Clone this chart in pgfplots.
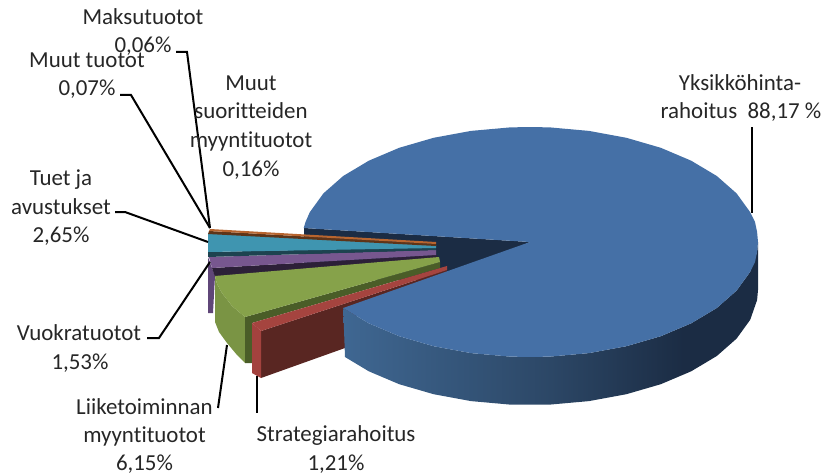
\documentclass[border=0pt]{standalone}
\usepackage{fontspec}
\setmainfont[Ligatures=NoCommon]{Carlito}
\usepackage{pgfplots}
\pgfplotsset{compat=1.18}
\definecolor{c1}{HTML}{3F6792}
\definecolor{c2}{HTML}{2C4766}
\definecolor{c3}{HTML}{1B2C44}
\pgfdeclarehorizontalshading{pieside}{100bp}{color(0bp)=(c1); color(25bp)=(c1); color(50bp)=(c2); color(66bp)=(c3); color(75bp)=(c3); color(100bp)=(c3)}
\definecolor{bluetop}{HTML}{4570A6}
\definecolor{redtop}{HTML}{A5443F}
\definecolor{redwall}{HTML}{592622}
\definecolor{redside}{HTML}{A3423E}
\definecolor{greentop}{HTML}{86A24A}
\definecolor{greenside}{HTML}{7A9444}
\definecolor{greenwall}{HTML}{4A5D28}
\definecolor{purptop}{HTML}{77578F}
\definecolor{purpwall}{HTML}{2C2038}
\definecolor{purpside}{HTML}{5F4678}
\definecolor{tealtop}{HTML}{3F95B0}
\definecolor{tealwall}{HTML}{1D4350}
\definecolor{brown}{HTML}{B8652F}
\definecolor{brownd}{HTML}{5E3418}
\definecolor{lab}{HTML}{262626}
\newcommand{\lbl}[3]{\node[font=\fontsize{23}{23}\selectfont,text=lab,inner sep=0pt,anchor=base] at (axis cs:#1,#2+7) {#3};}
\begin{document}
\begin{tikzpicture}
\path[use as bounding box] (0,0) rectangle (827bp,475bp);
\begin{axis}[
  at={(0,0)},anchor=south west,
  width=827bp,height=475bp,scale only axis,
  xmin=0,xmax=827,ymin=0,ymax=475,y dir=reverse,
  enlargelimits=false,axis lines=none,clip=false,
  every axis plot/.append style={draw=none,mark=none}]
% dark inner wedge
\addplot[fill=c3] coordinates {(304,228)(530,242)(440,280)(304,280)} --cycle;
% purple outer side
\addplot[fill=purpside] coordinates {(208,257)(208,313)(213,313)(215,276)(212,268)} --cycle;
% purple wall and top
\addplot[fill=purpwall] coordinates {(212,268)(436,255)(439,258)(215,277)} --cycle;
\addplot[fill=purptop] coordinates {(209,257)(436,250)(436,255)(212,268)} --cycle;
% teal
\addplot[fill=tealwall] coordinates {(208,252)(436,247)(436,250)(208,257)} --cycle;
\addplot[fill=tealtop] coordinates {(208,233)(436,245)(436,248)(208,252)} --cycle;
% brown
\addplot[fill=brownd] coordinates {(209,231)(436,244)(436,246)(208,234)} --cycle;
\addplot[fill=brown] coordinates {(210,229)(436,242)(436,244)(209,231)} --cycle;
% green
\addplot[fill=greenside] coordinates {(215,276)(217,284)(222,293)(232,306)(245,317)(245,363)(237,355)(227,343)(219,332)(215,322)} --cycle;
\addplot[fill=greenwall] coordinates {(245,317)(440,262)(440,268)(252,323)(252,363)(245,363)} --cycle;
\addplot[fill=greentop] coordinates {(215,276)(439,257)(440,262)(245,317)(232,306)(222,293)(217,284)} --cycle;
% red
\addplot[fill=redwall] coordinates {(261,331)(447,270)(447,280)(345,320)(345,348)(261,378)} --cycle;
\addplot[fill=redside] coordinates {(252,323)(261,331)(261,378)(252,373)} --cycle;
\addplot[fill=redtop] coordinates {(252,323)(447,266)(447,270)(261,331)} --cycle;
% blue side wall
\addplot[shade,shading=pieside] coordinates {(343.2,308)(368.8,323.3)(399.2,336.2)(433.6,346.2)(471,353.1)(510.1,356.6)(549.9,356.6)(589,353.1)(626.4,346.2)(660.8,336.2)(691.2,323.3)(716.8,308)(736.6,290.6)(750.2,271.8)(757.1,252)(758,242)(758,290)(757.1,300)(750.2,319.8)(736.6,338.6)(716.8,356)(691.2,371.3)(660.8,384.2)(626.4,394.2)(589,401.1)(549.9,404.6)(510.1,404.6)(471,401.1)(433.6,394.2)(399.2,384.2)(368.8,371.3)(345,357)} --cycle;
% blue top
\addplot[fill=bluetop] coordinates {(303.7,228)(305.5,222)(309.8,212.2)(323.4,193.4)(343.2,176)(368.8,160.7)(399.2,147.8)(433.6,137.8)(471,130.9)(510.1,127.4)(530,127)(549.9,127.4)(589,130.9)(626.4,137.8)(660.8,147.8)(691.2,160.7)(716.8,176)(736.6,193.4)(750.2,212.2)(755,222)(757.1,232)(758,242)(757.1,252)(755,262)(750.2,271.8)(736.6,290.6)(716.8,308)(691.2,323.3)(660.8,336.2)(626.4,346.2)(589,353.1)(549.9,356.6)(530,357)(510.1,356.6)(471,353.1)(433.6,346.2)(399.2,336.2)(368.8,323.3)(343.2,308)(530,242)} --cycle;
% leaders
\addplot[draw=black,line width=2bp,fill=none] coordinates {(176,52)(187,52)(210,228)};
\addplot[draw=black,line width=2bp,fill=none] coordinates {(120,95)(131,95)(210,228)};
\addplot[draw=black,line width=2bp,fill=none] coordinates {(115,212)(125,212)(208,242)};
\addplot[draw=black,line width=2bp,fill=none] coordinates {(147,338)(159,338)(210,262)};
\addplot[draw=black,line width=2bp,fill=none] coordinates {(227,345)(218,408)};
\addplot[draw=black,line width=2bp,fill=none] coordinates {(257,376)(257,413)};
\addplot[draw=black,line width=2bp,fill=none] coordinates {(751.7,127)(751.7,213)};
% labels
\lbl{143}{18}{Maksutuotot}
\lbl{143}{46}{0,06\%}
\lbl{87}{61}{Muut tuotot}
\lbl{87}{89}{0,07\%}
\lbl{251}{84}{Muut}
\lbl{251}{112}{suoritteiden}
\lbl{251}{140}{myyntituotot}
\lbl{251}{169}{0,16\%}
\lbl{61}{178}{Tuet ja}
\lbl{61}{207}{avustukset}
\lbl{61}{235}{2,65\%}
\lbl{79}{333}{Vuokratuotot}
\lbl{80}{362}{1,53\%}
\lbl{144.5}{407}{Liiketoiminnan}
\lbl{144.5}{435}{myyntituotot}
\lbl{144.5}{463}{6,15\%}
\lbl{336}{434}{Strategiarahoitus}
\lbl{336}{463}{1,21\%}
\lbl{740}{84}{Yksikköhinta-}
\lbl{741}{112}{rahoitus\ \ 88,17 \%}
\end{axis}
\end{tikzpicture}
\end{document}
